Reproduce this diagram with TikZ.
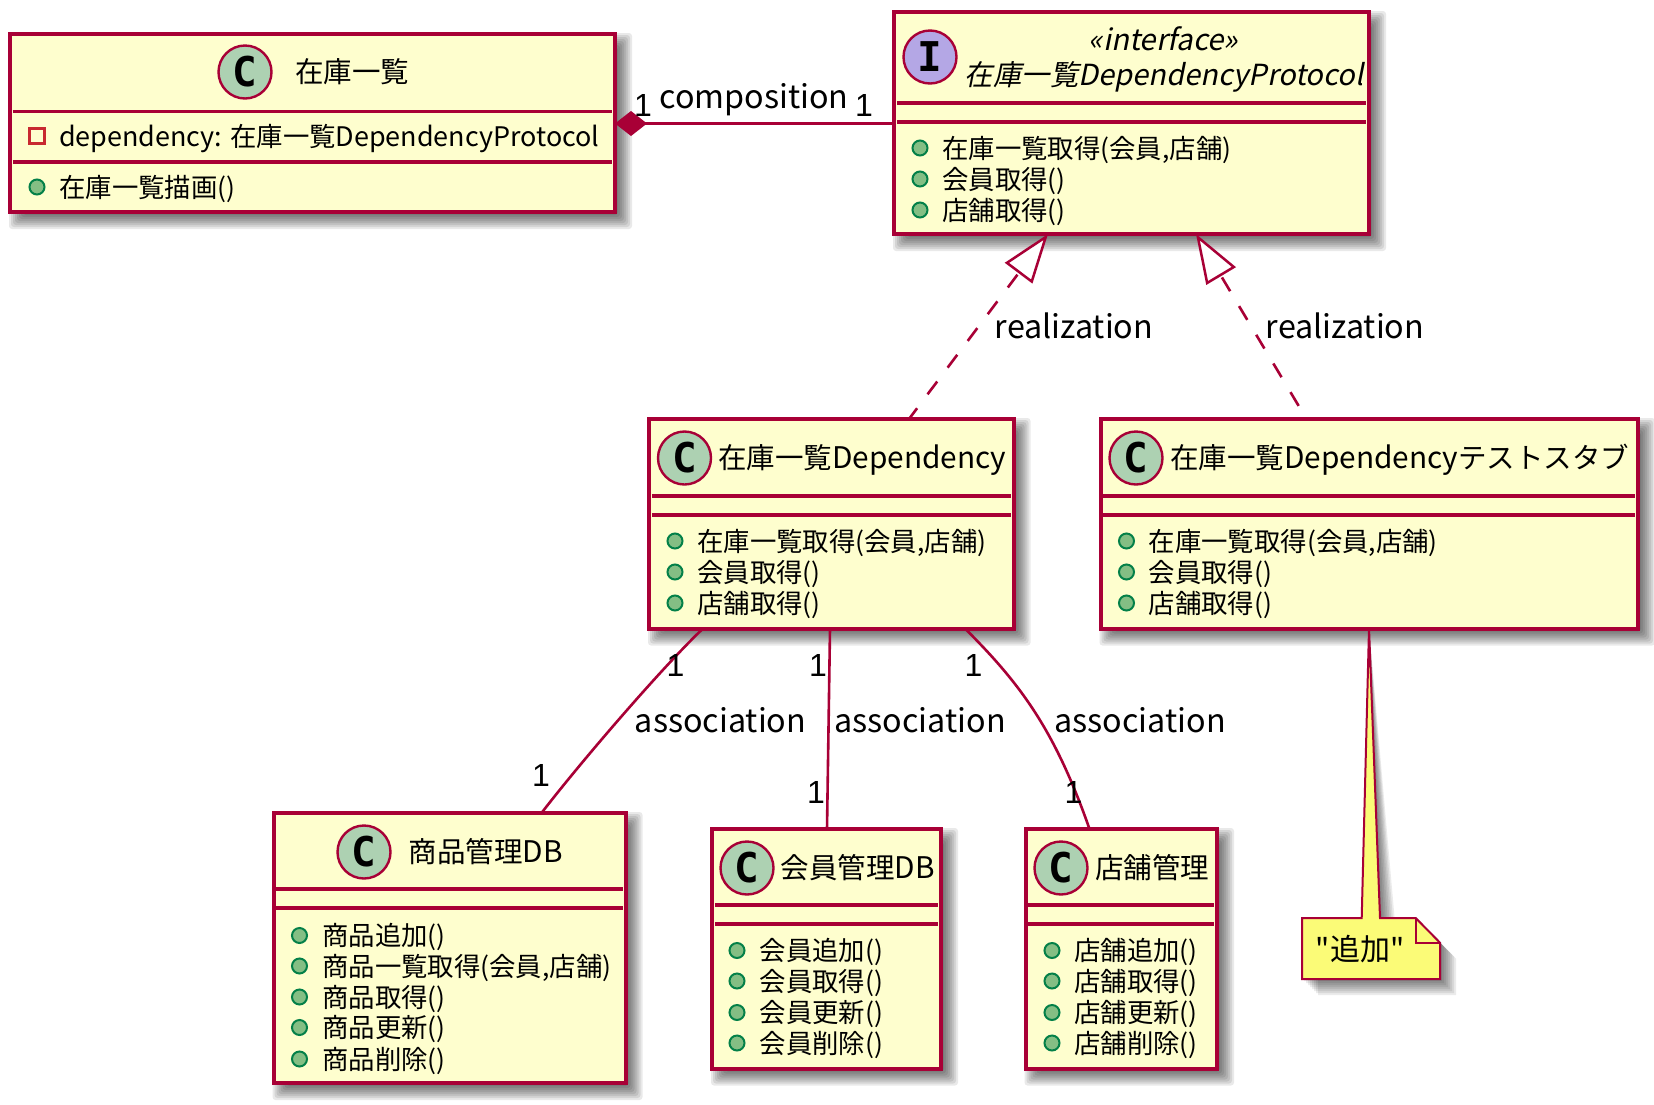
\documentclass[tikz,border=0pt]{standalone}
\usepackage{fontspec}
\setmainfont{Noto Sans CJK JP}
\newfontfamily\slantfont[FakeSlant=0.2]{Noto Sans CJK JP}
\newfontfamily\slantlat[FakeSlant=0.2,Scale=1.02]{Noto Sans CJK JP}
\newfontfamily\latf[Scale=1.045]{Noto Sans CJK JP}
\newfontfamily\mlatf[Scale=1.02]{Noto Sans CJK JP}
\newfontfamily\plainfont{Noto Sans CJK JP}
\newfontfamily\glyphfont{DejaVu Sans Mono}
\newfontfamily\multfont{Liberation Sans}
\newcommand{\lat}[1]{{\latf #1}}
\newcommand{\mlat}[1]{{\mlatf #1}}
\newcommand{\slat}[1]{{\slantlat #1}}
\usetikzlibrary{arrows.meta,calc}
\definecolor{umlborder}{HTML}{A80036}
\definecolor{umlfill}{HTML}{FEFECE}
\definecolor{umlcircle}{HTML}{ADD1B2}
\definecolor{umliface}{HTML}{B4A7E5}
\definecolor{umlnote}{HTML}{FBFB77}
\definecolor{memfill}{HTML}{84BE84}
\definecolor{memedge}{HTML}{038048}
\definecolor{privedge}{HTML}{C82930}
\tikzset{
  x=1pt,y=-1pt,
  classbox/.style={draw=umlborder,fill=umlfill,line width=4pt,inner sep=0pt,outer sep=0pt},
  divider/.style={draw=umlborder,line width=3.4pt},
  link/.style={draw=umlborder,line width=2.6pt},
  realiz/.style={link,dash pattern=on 16pt off 17.4pt,-{Triangle[open,fill=white,length=49pt,width=34pt,line width=2.5pt]}},
  badge/.style={circle,draw=umlborder,line width=2.4pt,minimum size=53pt,inner sep=0pt,font=\glyphfont\bfseries\fontsize{41}{41}\selectfont},
  titletext/.style={anchor=base,font=\fontsize{28.5}{30}\selectfont,inner sep=0pt,yshift=-10.8pt},
  memtext/.style={anchor=base west,font=\fontsize{26.4}{28}\selectfont,inner sep=0pt,yshift=-10pt},
  memdot/.style={circle,draw=memedge,fill=memfill,line width=2pt,minimum size=15pt,inner sep=0pt},
  privdot/.style={rectangle,draw=privedge,line width=2.4pt,minimum size=15pt,inner sep=0pt},
  lbl/.style={anchor=base,font=\fontsize{32.3}{34}\selectfont,inner sep=0pt,yshift=-10.3pt},
  mult/.style={font=\multfont\fontsize{32}{34}\selectfont,inner sep=0pt},
}
% name, x1, y1, x2, y2, divider y1, divider y2
\newcommand{\umlclass}[7]{%
  \foreach \e in {9,7,5,3,1,-1,-3,-5,-7}{%
    \fill[black,opacity=.085,rounded corners=3pt] (#2+8-\e,#3+8-\e) rectangle (#4+8+\e,#5+8+\e);}
  \node[classbox,minimum width={(#4)-(#2)},minimum height={(#5)-(#3)}] (#1) at ({((#2)+(#4))/2},{((#3)+(#5))/2}) {};
  \draw[divider] (#2+2.8,#6) -- (#4-2.8,#6);
  \draw[divider] (#2+2.8,#7) -- (#4-2.8,#7);
}
% name, dot x, text x, y, text
\newcommand{\member}[5]{%
  \node[memdot] (#1d) at (#2,#4) {};
  \node[memtext] (#1t) at (#3,#4) {#5};
}
\begin{document}
\begin{tikzpicture}
\useasboundingbox (0,0) rectangle (1654,1104);
\fill[white] (0,0) rectangle (1654,1104);

% Note shadow comes first so the boxes sit above the tail
\coordinate (tailtop) at (1369,628);
\foreach \s in {2,4,6,8,10,12,14,16}{
  \fill[black,opacity=.08,shift={(\s,\s)}] (1302,918) -- (1361.7,918) -- (tailtop) -- (1380,918) -- (1415.7,918) -- (1440,942.7) -- (1440,979) -- (1302,979) -- cycle;
}

% Classes
\umlclass{listc}{10}{34}{615}{212}{111.5}{162}
\umlclass{proto}{894}{12}{1369}{234}{103}{122}
\umlclass{dep}{649}{419}{1013.5}{628.5}{496}{515}
\umlclass{stub}{1100.5}{419}{1638}{628.5}{496}{515}
\umlclass{prod}{273.5}{813}{625.5}{1083}{889}{908}
\umlclass{memb}{712}{829}{941}{1068.5}{905}{924}
\umlclass{shop}{1025.5}{829}{1217}{1068.5}{905}{924}

% 在庫一覧
\node[badge,fill=umlcircle] (listb) at (245,72) {C};
\node[titletext] (listn) at (352,72) {在庫一覧};
\node[privdot] (listpd) at (37,136) {};
\node[memtext] (listpt) at (59,136) {\mlat{dependency:} 在庫一覧\mlat{DependencyProtocol}};
\member{listm}{37}{59}{187}{在庫一覧描画()}

% Protocol
\node[badge,fill=umliface] (protob) at (930,57) {I};
\node[titletext,font=\slantfont\fontsize{29.5}{30}\selectfont] (protos) at (1163.5,40) {«interface»};
\node[titletext,font=\slantfont\fontsize{28.5}{30}\selectfont] (proton) at (1164,75) {在庫一覧\slat{DependencyProtocol}};
\member{protoa}{920}{942}{148}{在庫一覧取得(会員,店舗)}
\member{protoc}{920}{942}{179}{会員取得()}
\member{protoe}{920}{942}{210}{店舗取得()}

% Dependency
\node[badge,fill=umlcircle] (depb) at (684.5,458) {C};
\node[titletext,anchor=base west] (depn) at (718,458) {在庫一覧\lat{Dependency}};
\member{depa}{675}{697}{541}{在庫一覧取得(会員,店舗)}
\member{depc}{675}{697}{572}{会員取得()}
\member{depe}{675}{697}{603}{店舗取得()}

% Stub
\node[badge,fill=umlcircle] (stubb) at (1136,458) {C};
\node[titletext,anchor=base west] (stubn) at (1170,458) {在庫一覧\lat{Dependency}テストスタブ};
\member{stuba}{1126.5}{1148.5}{541}{在庫一覧取得(会員,店舗)}
\member{stubc}{1126.5}{1148.5}{572}{会員取得()}
\member{stube}{1126.5}{1148.5}{603}{店舗取得()}

% 商品管理DB
\node[badge,fill=umlcircle] (prodb) at (364,852) {C};
\node[titletext] (prodn) at (486,852) {商品管理\lat{DB}};
\member{proda}{299.5}{322}{935.5}{商品追加()}
\member{prodc}{299.5}{322}{966}{商品一覧取得(会員,店舗)}
\member{prode}{299.5}{322}{997}{商品取得()}
\member{prodg}{299.5}{322}{1027.5}{商品更新()}
\member{prodi}{299.5}{322}{1059}{商品削除()}

% 会員管理DB
\node[badge,fill=umlcircle] (membb) at (747,868) {C};
\node[titletext,anchor=base west] (membn) at (780.5,868) {会員管理\lat{DB}};
\member{memba}{737}{759.5}{950.5}{会員追加()}
\member{membc}{737}{759.5}{981}{会員取得()}
\member{membe}{737}{759.5}{1012.5}{会員更新()}
\member{membg}{737}{759.5}{1043}{会員削除()}

% 店舗管理
\node[badge,fill=umlcircle] (shopb) at (1061,868) {C};
\node[titletext,anchor=base west] (shopn) at (1095,868) {店舗管理};
\member{shopa}{1052}{1074}{950.5}{店舗追加()}
\member{shopc}{1052}{1074}{981}{店舗取得()}
\member{shope}{1052}{1074}{1012.5}{店舗更新()}
\member{shopg}{1052}{1074}{1043}{店舗削除()}

% Note
\draw[draw=umlborder,fill=umlnote,line width=2pt,line join=miter]
  (1302,918) -- (1361.7,918) -- (tailtop) -- (1380,918) -- (1415.7,918) -- (1440,942.7) -- (1440,979) -- (1302,979) -- cycle;
\draw[draw=umlborder,line width=2pt] (1415.7,918) -- (1415.7,942.7) -- (1440,942.7);
\node[titletext,font=\plainfont\fontsize{30}{32}\selectfont] (notet) at (1360,950) {"追加"};

% Connectors
\draw[link,{Diamond[fill=umlborder,length=32pt,width=25pt]}-] (listc.east |- 0,123.5) -- (proto.west |- 0,123.5);
\draw[realiz,dash phase=2.5pt] ([xshift=260pt]dep.north west) -- ([xshift=154pt]proto.south west);
\draw[realiz,dash phase=18.1pt] ([xshift=206pt]stub.north west) -- ([xshift=302pt]proto.south west);
\draw[link] ([xshift=54pt]dep.south west) .. controls +(-40,38) and +(40,-52) .. ([xshift=268pt]prod.north west);
\draw[link] ([xshift=181pt]dep.south west) -- ([xshift=115pt]memb.north west);
\draw[link] ([xshift=316pt]dep.south west) .. controls +(55,55) and +(-35,-100) .. ([xshift=64pt]shop.north west);

% Labels
\node[lbl] (lcomp) at (754,97.7) {composition};
\node[lbl] (lreal1) at (1074,328) {realization};
\node[lbl] (lreal2) at (1345,328) {realization};
\node[lbl] (lass1) at (720.5,722.5) {association};
\node[lbl] (lass2) at (920,722.5) {association};
\node[lbl] (lass3) at (1140,722.5) {association};
\node[mult] (m1) at (643,105) {1};
\node[mult] (m2) at (864,105) {1};
\node[mult] (m3) at (675.5,665) {1};
\node[mult] (m4) at (818,665) {1};
\node[mult] (m5) at (973.5,665) {1};
\node[mult] (m6) at (541,775) {1};
\node[mult] (m7) at (816,792) {1};
\node[mult] (m8) at (1073.5,792) {1};
\end{tikzpicture}
\end{document}
